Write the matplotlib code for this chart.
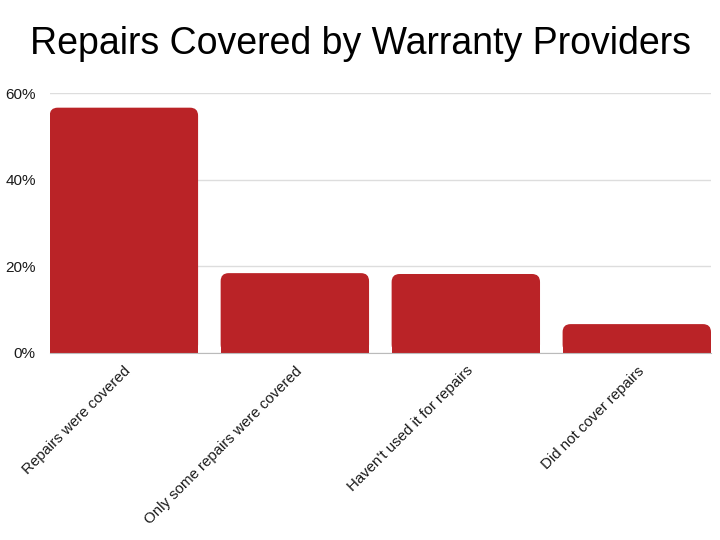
import matplotlib
matplotlib.use("Agg")
from matplotlib import pyplot as plt
from matplotlib.patches import FancyBboxPatch, Rectangle
from matplotlib.ticker import FuncFormatter

# データ
categories = ["Repairs were covered", "Only some repairs were covered",
              "Haven't used it for repairs", "Did not cover repairs"]
values = [56.7, 18.4, 18.2, 6.6]
yticks = [0, 20, 40, 60]

bar_color = "#BA2327"
bar_w = 0.868

plt.rcParams["font.family"] = ["Liberation Sans", "DejaVu Sans"]
fig = plt.figure(figsize=(7.2, 5.4), dpi=100)
ax = fig.add_axes([0.069, 0.347, 0.9185, 0.48])

x = list(range(len(categories)))
bars = ax.bar(x, values, width=bar_w, color=bar_color, zorder=2)

ax.set_xlim(-bar_w / 2, len(categories) - 1 + bar_w / 2)
ax.set_ylim(0, 60)

# 角丸の棒に置き換える
px_x = (len(categories) - 1 + bar_w) / (0.9185 * 720)
px_y = 60 / (0.48 * 540)
r = 8 * px_x
for b in bars:
    b.set_visible(False)
    bx, bw, bh = b.get_x(), b.get_width(), b.get_height()
    ax.add_patch(FancyBboxPatch((bx, 0), bw, bh,
                                boxstyle="round,pad=0,rounding_size=%f" % r,
                                mutation_aspect=px_y / px_x,
                                fc=bar_color, ec="none", zorder=2))
    ax.add_patch(Rectangle((bx, 0), bw, bh / 2, fc=bar_color,
                           ec="none", zorder=2))

ax.set_yticks(yticks)
ax.yaxis.set_major_formatter(FuncFormatter(lambda v, p: "%d%%" % v))
ax.grid(axis="y", color="#dddddd", linewidth=1, zorder=0)
ax.set_xticks(x)
ax.set_xticklabels(categories, rotation=45, ha="right", rotation_mode="anchor",
                   fontsize=10.8, color="#1a1a1a")
ax.tick_params(axis="both", length=0, pad=8)
ax.tick_params(axis="y", labelsize=11, labelcolor="#1a1a1a", pad=10)
for s in ["top", "right", "left"]:
    ax.spines[s].set_visible(False)
ax.spines["bottom"].set_color("#bbbbbb")
ax.spines["bottom"].set_zorder(3)

fig.text(0.5, 0.918, "Repairs Covered by Warranty Providers", ha="center",
         va="center", fontsize=27, color="black")

fig.savefig("out.png", dpi=100)
